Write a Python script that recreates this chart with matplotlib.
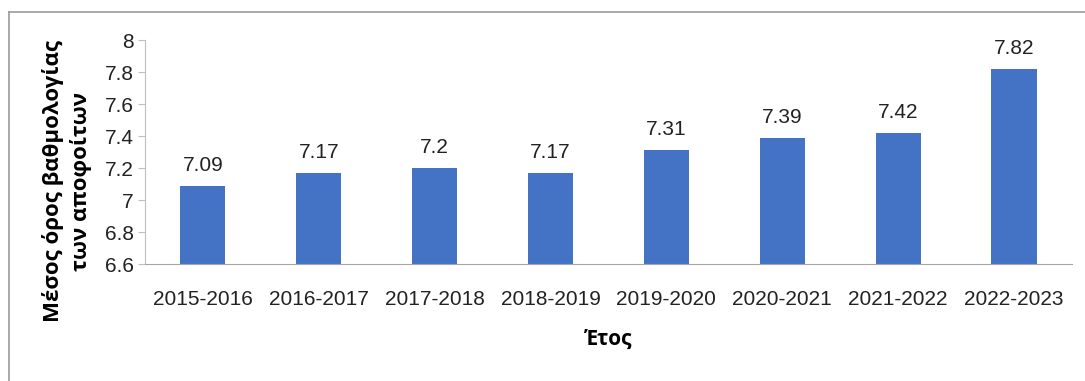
import matplotlib.pyplot as plt
from matplotlib.lines import Line2D
import numpy as np

plt.rcParams["font.family"] = ["Liberation Sans", "DejaVu Sans"]
plt.rcParams["font.size"] = 15

years = ["2015-2016", "2016-2017", "2017-2018", "2018-2019",
         "2019-2020", "2020-2021", "2021-2022", "2022-2023"]
grades = [7.09, 7.17, 7.2, 7.17, 7.31, 7.39, 7.42, 7.82]
yticks = [6.6, 6.8, 7, 7.2, 7.4, 7.6, 7.8, 8]
ytick_labels = ["6.6", "6.8", "7", "7.2", "7.4", "7.6", "7.8", "8"]

fig = plt.figure(figsize=(10.85, 3.81), dpi=100)
ax = fig.add_axes([0.1336, 0.307, 0.988 - 0.1336, 0.895 - 0.307])

x = np.arange(len(years))
ax.bar(x, grades, width=0.39, color="#4472C4")
ax.set_ylim(6.6, 8)
ax.set_xlim(-0.5, len(years) - 0.5)
ax.set_yticks(yticks)
ax.set_yticklabels(ytick_labels)
ax.set_xticks(x)
ax.set_xticklabels(years)

for xi, v in zip(x, grades):
    ax.annotate(f"{v:g}", (xi, v), xytext=(0, 8), textcoords="offset points",
                ha="center", va="bottom", fontsize=15, color="#222222")

for s in ["top", "right"]:
    ax.spines[s].set_visible(False)
ax.spines["left"].set_color("#bfbfbf")
ax.spines["bottom"].set_color("#a6a6a6")
ax.tick_params(axis="y", length=5, color="#bfbfbf", labelcolor="#222222", pad=3)
ax.tick_params(axis="x", length=0, labelcolor="#222222", pad=19)

ax.set_ylabel("Μέσος όρος βαθμολογίας\nτων αποφοίτων", fontsize=16,
              fontweight="bold", family=["Open Sans", "DejaVu Sans"], linespacing=1.35)
ax.yaxis.set_label_coords(-0.057, 0.37)
ax.set_xlabel("Έτος", fontsize=15, fontweight="bold", family=["Open Sans", "DejaVu Sans"])
ax.xaxis.set_label_coords(0.5, -0.29)

# outer frame (open at right and bottom)
fx = 9 / 1085
fy = 1 - 12 / 381
fig.add_artist(Line2D([fx, 1], [fy, fy], color="#9a9a9a", lw=1.2, transform=fig.transFigure))
fig.add_artist(Line2D([fx, fx], [0, fy], color="#9a9a9a", lw=1.2, transform=fig.transFigure))

fig.savefig("out.png", dpi=100)
